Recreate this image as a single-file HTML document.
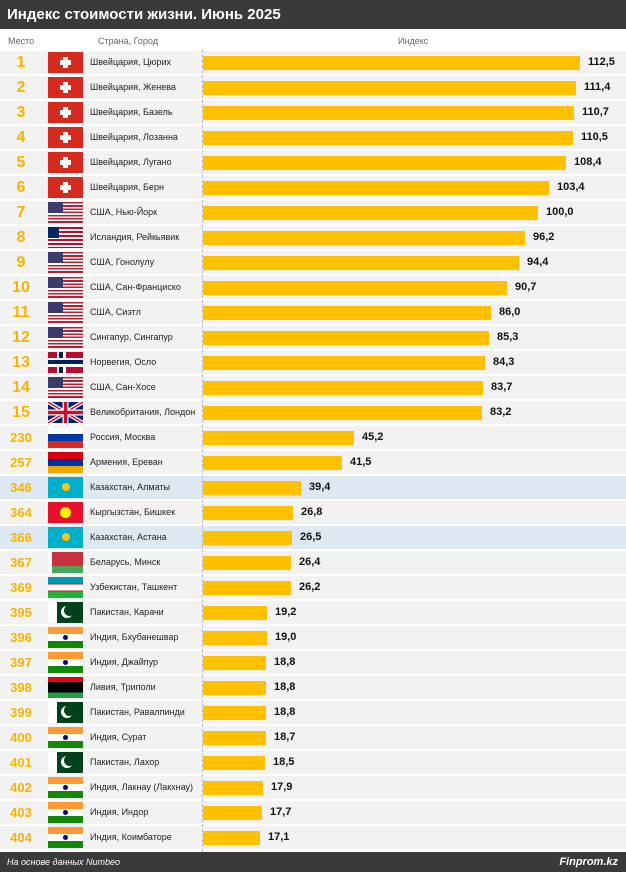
<!DOCTYPE html>
<html><head><meta charset="utf-8"><style>
*{margin:0;padding:0;box-sizing:border-box}
body{width:626px;height:872px;position:relative;background:#fff;font-family:"Liberation Sans","DejaVu Sans",sans-serif;overflow:hidden}
.hd{position:absolute;left:0;top:0;width:626px;height:29px;background:#3a3a3a;color:#fff;font-weight:bold;font-size:15px;line-height:29px;padding-left:7px}
.ft{position:absolute;left:0;top:852px;width:626px;height:20px;background:#3a3a3a;color:#fff;font-size:9px;font-style:italic;line-height:20px;padding-left:7px}
.ft b{position:absolute;right:8px;top:0;font-size:11px}
.cl{position:absolute;top:36px;font-size:9px;color:#666}
.dl{position:absolute;left:202px;top:50px;height:802px;border-left:1px dashed #bbb}
.r{position:absolute;left:0;width:626px;height:23px;background:#f2f2f2}
.r.h{background:#dde8f3}
.rk{position:absolute;left:0;width:42px;text-align:center;font-weight:bold;color:#f5b400;top:0;line-height:23px;font-size:16px}
.rk.s{font-size:13px}
.f{position:absolute;left:48px;top:1px;width:35px;height:21px;overflow:hidden}
.n{position:absolute;left:90px;top:0;line-height:23px;font-size:9px;color:#222}
.b{position:absolute;left:203px;top:5px;height:14px;background:#ffc000}
.v{position:absolute;top:0;line-height:23px;font-size:11px;font-weight:bold;color:#111}
.ch{background:#d52b1e}
.ch:before{content:"";position:absolute;left:15px;top:5px;width:5px;height:11px;background:#fff}
.ch:after{content:"";position:absolute;left:12px;top:8px;width:11px;height:5px;background:#fff}
.us{background:repeating-linear-gradient(#b22234 0 1.6px,#fff 1.6px 3.2px)}
.us:before{content:"";position:absolute;left:0;top:0;width:15px;height:11px;background:#3c3b6e}
.lr{background:repeating-linear-gradient(#bf0a30 0 2px,#fff 2px 4px)}
.lr:before{content:"";position:absolute;left:0;top:0;width:11px;height:11px;background:#002868}
.no{background:#ba0c2f}
.no:before{content:"";position:absolute;left:9px;top:0;width:9px;height:21px;background:linear-gradient(90deg,#fff 2px,#00205b 2px 6px,#fff 6px)}
.no:after{content:"";position:absolute;left:0;top:6px;width:35px;height:9px;background:linear-gradient(#fff 2px,#00205b 2px 6px,#fff 6px)}
.gb{background:#012169}
.ru{background:linear-gradient(#fff 33%,#0039a6 33% 66%,#d52b1e 66%)}
.am{background:linear-gradient(#d90012 33%,#0033a0 33% 66%,#f2a800 66%)}
.kz{background:#00afca}
.kz:before{content:"";position:absolute;left:14px;top:6px;width:8px;height:8px;border-radius:50%;background:#fec50c}
.kg{background:#e8112d}
.kg:before{content:"";position:absolute;left:12px;top:5px;width:11px;height:11px;border-radius:50%;background:#ffef00}
.by{background:linear-gradient(#c8313e 66%,#4aa657 66%)}
.by:before{content:"";position:absolute;left:0;top:0;width:4px;height:21px;background:#fff}
.uz{background:linear-gradient(#0099b5 32%,#ce1126 32% 35%,#fff 35% 65%,#ce1126 65% 68%,#1eb53a 68%)}
.pk{background:linear-gradient(90deg,#fff 25%,#01411c 25%)}
.pk:before{content:"";position:absolute;left:13px;top:4px;width:12px;height:12px;border-radius:50%;background:#fff}
.pk:after{content:"";position:absolute;left:16px;top:3px;width:11px;height:11px;border-radius:50%;background:#01411c}
.in{background:linear-gradient(#ff9933 33%,#fff 33% 66%,#138808 66%)}
.in:before{content:"";position:absolute;left:15px;top:8px;width:5px;height:5px;border-radius:50%;background:#000080}
.ly{background:linear-gradient(#e70013 25%,#000 25% 75%,#239e46 75%)}
</style></head><body>
<div class="hd">Индекс стоимости жизни. Июнь 2025</div>
<div class="cl" style="left:8px">Место</div>
<div class="cl" style="left:98px">Страна, Город</div>
<div class="cl" style="left:398px">Индекс</div>

<div class="r" style="top:51px"><div class="rk">1</div><div class="f ch"></div><div class="n">Швейцария, Цюрих</div><div class="b" style="width:377px"></div><div class="v" style="left:588px">112,5</div></div>
<div class="r" style="top:76px"><div class="rk">2</div><div class="f ch"></div><div class="n">Швейцария, Женева</div><div class="b" style="width:373px"></div><div class="v" style="left:584px">111,4</div></div>
<div class="r" style="top:101px"><div class="rk">3</div><div class="f ch"></div><div class="n">Швейцария, Базель</div><div class="b" style="width:371px"></div><div class="v" style="left:582px">110,7</div></div>
<div class="r" style="top:126px"><div class="rk">4</div><div class="f ch"></div><div class="n">Швейцария, Лозанна</div><div class="b" style="width:370px"></div><div class="v" style="left:581px">110,5</div></div>
<div class="r" style="top:151px"><div class="rk">5</div><div class="f ch"></div><div class="n">Швейцария, Лугано</div><div class="b" style="width:363px"></div><div class="v" style="left:574px">108,4</div></div>
<div class="r" style="top:176px"><div class="rk">6</div><div class="f ch"></div><div class="n">Швейцария, Берн</div><div class="b" style="width:346px"></div><div class="v" style="left:557px">103,4</div></div>
<div class="r" style="top:201px"><div class="rk">7</div><div class="f us"></div><div class="n">США, Нью-Йорк</div><div class="b" style="width:335px"></div><div class="v" style="left:546px">100,0</div></div>
<div class="r" style="top:226px"><div class="rk">8</div><div class="f lr"></div><div class="n">Исландия, Рейкьявик</div><div class="b" style="width:322px"></div><div class="v" style="left:533px">96,2</div></div>
<div class="r" style="top:251px"><div class="rk">9</div><div class="f us"></div><div class="n">США, Гонолулу</div><div class="b" style="width:316px"></div><div class="v" style="left:527px">94,4</div></div>
<div class="r" style="top:276px"><div class="rk">10</div><div class="f us"></div><div class="n">США, Сан-Франциско</div><div class="b" style="width:304px"></div><div class="v" style="left:515px">90,7</div></div>
<div class="r" style="top:301px"><div class="rk">11</div><div class="f us"></div><div class="n">США, Сиэтл</div><div class="b" style="width:288px"></div><div class="v" style="left:499px">86,0</div></div>
<div class="r" style="top:326px"><div class="rk">12</div><div class="f us"></div><div class="n">Сингапур, Сингапур</div><div class="b" style="width:286px"></div><div class="v" style="left:497px">85,3</div></div>
<div class="r" style="top:351px"><div class="rk">13</div><div class="f no"></div><div class="n">Норвегия, Осло</div><div class="b" style="width:282px"></div><div class="v" style="left:493px">84,3</div></div>
<div class="r" style="top:376px"><div class="rk">14</div><div class="f us"></div><div class="n">США, Сан-Хосе</div><div class="b" style="width:280px"></div><div class="v" style="left:491px">83,7</div></div>
<div class="r" style="top:401px"><div class="rk">15</div><div class="f gb"><svg width="35" height="21"><path d="M0 0L35 21M35 0L0 21" stroke="#fff" stroke-width="4"/><path d="M0 0L35 21M35 0L0 21" stroke="#c8102e" stroke-width="1.5"/><path d="M17.5 0V21M0 10.5H35" stroke="#fff" stroke-width="6"/><path d="M17.5 0V21M0 10.5H35" stroke="#c8102e" stroke-width="3.5"/></svg></div><div class="n">Великобритания, Лондон</div><div class="b" style="width:279px"></div><div class="v" style="left:490px">83,2</div></div>
<div class="r" style="top:426px"><div class="rk s">230</div><div class="f ru"></div><div class="n">Россия, Москва</div><div class="b" style="width:151px"></div><div class="v" style="left:362px">45,2</div></div>
<div class="r" style="top:451px"><div class="rk s">257</div><div class="f am"></div><div class="n">Армения, Ереван</div><div class="b" style="width:139px"></div><div class="v" style="left:350px">41,5</div></div>
<div class="r h" style="top:476px"><div class="rk s">346</div><div class="f kz"></div><div class="n">Казахстан, Алматы</div><div class="b" style="width:98px"></div><div class="v" style="left:309px">39,4</div></div>
<div class="r" style="top:501px"><div class="rk s">364</div><div class="f kg"></div><div class="n">Кыргызстан, Бишкек</div><div class="b" style="width:90px"></div><div class="v" style="left:301px">26,8</div></div>
<div class="r h" style="top:526px"><div class="rk s">366</div><div class="f kz"></div><div class="n">Казахстан, Астана</div><div class="b" style="width:89px"></div><div class="v" style="left:300px">26,5</div></div>
<div class="r" style="top:551px"><div class="rk s">367</div><div class="f by"></div><div class="n">Беларусь, Минск</div><div class="b" style="width:88px"></div><div class="v" style="left:299px">26,4</div></div>
<div class="r" style="top:576px"><div class="rk s">369</div><div class="f uz"></div><div class="n">Узбекистан, Ташкент</div><div class="b" style="width:88px"></div><div class="v" style="left:299px">26,2</div></div>
<div class="r" style="top:601px"><div class="rk s">395</div><div class="f pk"></div><div class="n">Пакистан, Карачи</div><div class="b" style="width:64px"></div><div class="v" style="left:275px">19,2</div></div>
<div class="r" style="top:626px"><div class="rk s">396</div><div class="f in"></div><div class="n">Индия, Бхубанешвар</div><div class="b" style="width:64px"></div><div class="v" style="left:275px">19,0</div></div>
<div class="r" style="top:651px"><div class="rk s">397</div><div class="f in"></div><div class="n">Индия, Джайпур</div><div class="b" style="width:63px"></div><div class="v" style="left:274px">18,8</div></div>
<div class="r" style="top:676px"><div class="rk s">398</div><div class="f ly"></div><div class="n">Ливия, Триполи</div><div class="b" style="width:63px"></div><div class="v" style="left:274px">18,8</div></div>
<div class="r" style="top:701px"><div class="rk s">399</div><div class="f pk"></div><div class="n">Пакистан, Равалпинди</div><div class="b" style="width:63px"></div><div class="v" style="left:274px">18,8</div></div>
<div class="r" style="top:726px"><div class="rk s">400</div><div class="f in"></div><div class="n">Индия, Сурат</div><div class="b" style="width:63px"></div><div class="v" style="left:274px">18,7</div></div>
<div class="r" style="top:751px"><div class="rk s">401</div><div class="f pk"></div><div class="n">Пакистан, Лахор</div><div class="b" style="width:62px"></div><div class="v" style="left:273px">18,5</div></div>
<div class="r" style="top:776px"><div class="rk s">402</div><div class="f in"></div><div class="n">Индия, Лакнау (Лакхнау)</div><div class="b" style="width:60px"></div><div class="v" style="left:271px">17,9</div></div>
<div class="r" style="top:801px"><div class="rk s">403</div><div class="f in"></div><div class="n">Индия, Индор</div><div class="b" style="width:59px"></div><div class="v" style="left:270px">17,7</div></div>
<div class="r" style="top:826px"><div class="rk s">404</div><div class="f in"></div><div class="n">Индия, Коимбаторе</div><div class="b" style="width:57px"></div><div class="v" style="left:268px">17,1</div></div>
<div class="dl"></div>
<div class="ft">На основе данных Numbeo<b>Finprom.kz</b></div>
</body></html>
